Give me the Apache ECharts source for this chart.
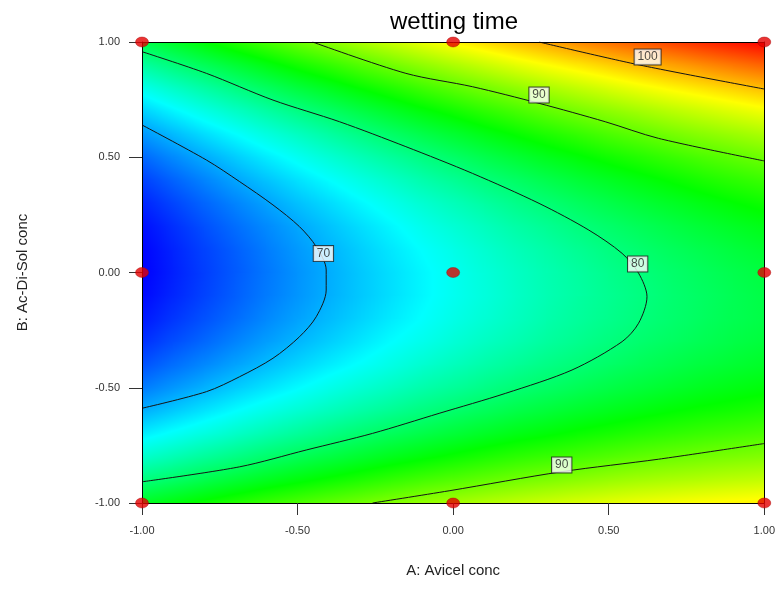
<!DOCTYPE html>
<html>
<head>
<meta charset="utf-8">
<title>wetting time</title>
<script src="https://cdn.jsdelivr.net/npm/echarts@6/dist/echarts.min.js"></script>
<style>
  html, body { margin: 0; padding: 0; background: #fff; }
  #main { width: 778px; height: 601px; }
</style>
</head>
<body>
<div id="main"></div>
<script>
// coded factor levels (grid of the response surface)
var aLevels = [-1, -0.9, -0.8, -0.7, -0.6, -0.5, -0.4, -0.3, -0.2, -0.1, 0, 0.1, 0.2, 0.3, 0.4, 0.5, 0.6, 0.7, 0.8, 0.9, 1];
var bLevels = [-1, -0.9, -0.8, -0.7, -0.6, -0.5, -0.4, -0.3, -0.2, -0.1, 0, 0.1, 0.2, 0.3, 0.4, 0.5, 0.6, 0.7, 0.8, 0.9, 1];

// wetting time, one row per B level (B = -1 first), one column per A level
var timeRows = [
    [83.7, 84.8, 85.9, 86.9, 87.9, 88.8, 89.7, 90.5, 91.3, 92.1, 92.8, 93.5, 94.1, 94.7, 95.3, 95.8, 96.3, 96.7, 97.1, 97.4, 97.7],
    [79.7, 80.8, 81.9, 83.0, 84.0, 84.9, 85.8, 86.7, 87.6, 88.4, 89.1, 89.8, 90.5, 91.1, 91.7, 92.3, 92.8, 93.2, 93.6, 94.0, 94.3],
    [76.1, 77.2, 78.4, 79.4, 80.5, 81.5, 82.4, 83.3, 84.2, 85.0, 85.8, 86.6, 87.3, 87.9, 88.5, 89.1, 89.7, 90.2, 90.6, 91.0, 91.4],
    [72.9, 74.1, 75.2, 76.3, 77.4, 78.4, 79.4, 80.4, 81.3, 82.1, 82.9, 83.7, 84.5, 85.1, 85.8, 86.4, 87.0, 87.5, 88.0, 88.4, 88.8],
    [70.1, 71.3, 72.5, 73.7, 74.8, 75.8, 76.8, 77.8, 78.7, 79.6, 80.5, 81.3, 82.1, 82.8, 83.5, 84.1, 84.7, 85.3, 85.8, 86.2, 86.7],
    [67.7, 69.0, 70.2, 71.4, 72.5, 73.6, 74.7, 75.7, 76.6, 77.6, 78.4, 79.3, 80.1, 80.8, 81.5, 82.2, 82.8, 83.4, 84.0, 84.5, 84.9],
    [65.8, 67.1, 68.3, 69.5, 70.7, 71.8, 72.9, 73.9, 74.9, 75.9, 76.8, 77.7, 78.5, 79.3, 80.0, 80.7, 81.4, 82.0, 82.6, 83.1, 83.6],
    [64.2, 65.6, 66.8, 68.1, 69.3, 70.4, 71.5, 72.6, 73.7, 74.6, 75.6, 76.5, 77.3, 78.2, 78.9, 79.7, 80.4, 81.0, 81.6, 82.2, 82.7],
    [63.1, 64.5, 65.8, 67.0, 68.3, 69.5, 70.6, 71.7, 72.8, 73.8, 74.8, 75.7, 76.6, 77.5, 78.3, 79.0, 79.8, 80.4, 81.1, 81.7, 82.2],
    [62.4, 63.8, 65.1, 66.4, 67.7, 68.9, 70.1, 71.2, 72.3, 73.4, 74.4, 75.3, 76.3, 77.2, 78.0, 78.8, 79.5, 80.3, 80.9, 81.6, 82.2],
    [62.1, 63.5, 64.9, 66.2, 67.5, 68.8, 70.0, 71.2, 72.3, 73.4, 74.4, 75.4, 76.4, 77.3, 78.1, 79.0, 79.8, 80.5, 81.2, 81.9, 82.5],
    [62.2, 63.7, 65.1, 66.4, 67.8, 69.1, 70.3, 71.5, 72.7, 73.8, 74.8, 75.9, 76.9, 77.8, 78.7, 79.6, 80.4, 81.2, 81.9, 82.6, 83.3],
    [62.7, 64.2, 65.7, 67.1, 68.4, 69.7, 71.0, 72.2, 73.4, 74.6, 75.7, 76.7, 77.8, 78.7, 79.7, 80.6, 81.4, 82.2, 83.0, 83.7, 84.4],
    [63.7, 65.2, 66.7, 68.1, 69.5, 70.9, 72.1, 73.4, 74.6, 75.8, 76.9, 78.0, 79.1, 80.1, 81.1, 82.0, 82.9, 83.7, 84.5, 85.3, 86.0],
    [65.0, 66.6, 68.1, 69.6, 71.0, 72.4, 73.7, 75.0, 76.2, 77.5, 78.6, 79.8, 80.8, 81.9, 82.9, 83.8, 84.7, 85.6, 86.5, 87.3, 88.0],
    [66.8, 68.4, 69.9, 71.4, 72.9, 74.3, 75.7, 77.0, 78.3, 79.5, 80.7, 81.9, 83.0, 84.1, 85.1, 86.1, 87.0, 87.9, 88.8, 89.6, 90.4],
    [69.0, 70.6, 72.2, 73.7, 75.2, 76.6, 78.0, 79.4, 80.7, 82.0, 83.2, 84.4, 85.6, 86.7, 87.7, 88.8, 89.7, 90.7, 91.6, 92.4, 93.2],
    [71.6, 73.3, 74.9, 76.4, 77.9, 79.4, 80.8, 82.2, 83.6, 84.9, 86.1, 87.4, 88.5, 89.7, 90.8, 91.8, 92.8, 93.8, 94.7, 95.6, 96.5],
    [74.6, 76.3, 77.9, 79.5, 81.1, 82.6, 84.0, 85.5, 86.8, 88.2, 89.5, 90.7, 91.9, 93.1, 94.2, 95.3, 96.4, 97.4, 98.3, 99.2, 100.1],
    [78.0, 79.8, 81.4, 83.0, 84.6, 86.2, 87.6, 89.1, 90.5, 91.9, 93.2, 94.5, 95.8, 97.0, 98.1, 99.2, 100.3, 101.3, 102.3, 103.3, 104.2],
    [81.9, 83.6, 85.3, 87.0, 88.6, 90.2, 91.7, 93.2, 94.6, 96.0, 97.4, 98.7, 100.0, 101.2, 102.4, 103.6, 104.7, 105.7, 106.8, 107.7, 108.7]
];

// contour lines, [A, B]
var contour70 = [[-1, 0.64], [-0.793, 0.488], [-0.686, 0.394], [-0.579, 0.293], [-0.494, 0.199], [-0.44, 0.112], [-0.408, 0.011],
    [-0.408, -0.076], [-0.44, -0.192], [-0.494, -0.279], [-0.579, -0.372], [-0.686, -0.452], [-0.793, -0.517], [-1, -0.589]];
var contour80 = [[-1, 0.958], [-0.793, 0.864], [-0.579, 0.748], [-0.365, 0.654], [-0.152, 0.546], [0.062, 0.43], [0.276, 0.3],
    [0.436, 0.184], [0.543, 0.083], [0.596, -0.003], [0.623, -0.105], [0.596, -0.22], [0.543, -0.3], [0.382, -0.423],
    [0.169, -0.524], [-0.045, -0.611], [-0.259, -0.698], [-0.472, -0.77], [-0.686, -0.843], [-1, -0.908]];
var contour90top = [[-0.452, 1], [-0.152, 0.864], [0.062, 0.806], [0.276, 0.734], [0.489, 0.654], [0.66, 0.582], [1, 0.484]];
var contour90bottom = [[-0.259, -1], [-0.013, -0.947], [0.35, -0.864], [0.66, -0.81], [1, -0.742]];
var contour100 = [[0.276, 1], [0.6, 0.9], [1, 0.796]];

// contour labels
var labelText = ['70', '80', '90', '100', '90'];
var labelA = [-0.417, 0.593, 0.276, 0.625, 0.349];
var labelB = [0.082, 0.037, 0.77, 0.935, -0.835];

// design points
var designA = [-1, -1, -1, 0, 0, 0, 1, 1, 1];
var designB = [-1, 0, 1, -1, 0, 1, -1, 0, 1];

// colour ramp of the plot: blue - cyan - green - yellow - red
var rampValues = [62.1, 73.75, 85.4, 97.05, 108.7];
var rampColors = [[0, 0, 255], [0, 255, 255], [0, 255, 0], [255, 255, 0], [255, 0, 0]];

var fontFamily = '"Liberation Sans", Arial, sans-serif';

// one cell between each pair of neighbouring grid nodes
var cells = [];
for (var i = 0; i < bLevels.length - 1; i++) {
    for (var j = 0; j < aLevels.length - 1; j++) {
        cells.push([aLevels[j], bLevels[i], aLevels[j + 1], bLevels[i + 1],
            timeRows[i][j], timeRows[i][j + 1], timeRows[i + 1][j], timeRows[i + 1][j + 1]]);
    }
}

var labelData = [];
for (var k = 0; k < labelText.length; k++) {
    labelData.push([labelA[k], labelB[k], labelText[k]]);
}
var designData = [];
for (var m = 0; m < designA.length; m++) {
    designData.push([designA[m], designB[m]]);
}

function colorOf(v) {
    var n = rampValues.length;
    if (v <= rampValues[0]) return 'rgb(' + rampColors[0].join(',') + ')';
    if (v >= rampValues[n - 1]) return 'rgb(' + rampColors[n - 1].join(',') + ')';
    for (var s = 0; s < n - 1; s++) {
        if (v <= rampValues[s + 1]) {
            var t = (v - rampValues[s]) / (rampValues[s + 1] - rampValues[s]);
            var c0 = rampColors[s], c1 = rampColors[s + 1];
            return 'rgb(' + Math.round(c0[0] + (c1[0] - c0[0]) * t) + ',' +
                Math.round(c0[1] + (c1[1] - c0[1]) * t) + ',' +
                Math.round(c0[2] + (c1[2] - c0[2]) * t) + ')';
        }
    }
}

// each cell is shaded with a linear gradient running along the slope of its four corner values
function renderCell(params, api) {
    var a0 = api.value(0), b0 = api.value(1), a1 = api.value(2), b1 = api.value(3);
    var v00 = api.value(4), v10 = api.value(5), v01 = api.value(6), v11 = api.value(7);
    var pTL = api.coord([a0, b1]);
    var pBR = api.coord([a1, b0]);
    var x = pTL[0], y = pTL[1], w = pBR[0] - pTL[0], h = pBR[1] - pTL[1];
    var vc = (v00 + v10 + v01 + v11) / 4;
    var dA = (v10 - v00 + v11 - v01) / 2;
    var dB = (v01 - v00 + v11 - v10) / 2;
    var gx = dA / w, gy = -dB / h;
    var g2 = gx * gx + gy * gy;
    var cx = x + w / 2, cy = y + h / 2;
    var fill;
    if (g2 < 1e-12) {
        fill = colorOf(vc);
    } else {
        var half = (Math.abs(dA) + Math.abs(dB)) / 2;
        var lo = vc - half, hi = vc + half;
        var t = half / g2;
        var stops = [{ offset: 0, color: colorOf(lo) }];
        for (var s = 0; s < rampValues.length; s++) {
            if (rampValues[s] > lo && rampValues[s] < hi) {
                stops.push({ offset: (rampValues[s] - lo) / (hi - lo), color: colorOf(rampValues[s]) });
            }
        }
        stops.push({ offset: 1, color: colorOf(hi) });
        fill = new echarts.graphic.LinearGradient(cx - gx * t, cy - gy * t, cx + gx * t, cy + gy * t, stops, true);
    }
    var rect = echarts.graphic.clipRectByRect({
        x: x - 0.5, y: y - 0.5, width: w + 1, height: h + 1
    }, {
        x: params.coordSys.x, y: params.coordSys.y,
        width: params.coordSys.width, height: params.coordSys.height
    });
    return rect && {
        type: 'rect',
        shape: rect,
        style: { fill: fill }
    };
}

function contourSeries(data) {
    return {
        type: 'line',
        data: data,
        smooth: 0.3,
        symbol: 'none',
        silent: true,
        z: 3,
        lineStyle: { color: '#151515', width: 1 }
    };
}

var myChart = echarts.init(document.getElementById('main'));

var option = {
    backgroundColor: '#fff',
    animation: false,
    textStyle: { fontFamily: fontFamily },
    graphic: [{
        type: 'text',
        x: 454,
        y: 10,
        style: {
            text: 'wetting time',
            align: 'center',
            fill: '#000',
            font: '24px ' + fontFamily
        }
    }],
    grid: { left: 142, right: 12, top: 42, bottom: 98 },
    xAxis: [{
        type: 'value', min: -1, max: 1, interval: 0.5, z: 5,
        name: 'A: Avicel conc', nameLocation: 'middle', nameGap: 60,
        nameTextStyle: { fontSize: 15, color: '#222' },
        axisLine: { onZero: false, lineStyle: { color: '#000', width: 1 } },
        axisTick: { show: true, inside: false, length: 12, lineStyle: { color: '#333' } },
        axisLabel: { fontSize: 11, color: '#333', margin: 22, formatter: function (v) { return v.toFixed(2); } },
        splitLine: { show: false }
    }, {
        type: 'value', min: -1, max: 1, position: 'top', z: 5,
        axisLine: { onZero: false, lineStyle: { color: '#000', width: 1 } },
        axisTick: { show: false }, axisLabel: { show: false }, splitLine: { show: false }
    }],
    yAxis: [{
        type: 'value', min: -1, max: 1, interval: 0.5, z: 5,
        name: 'B: Ac-Di-Sol conc', nameLocation: 'middle', nameGap: 112,
        nameTextStyle: { fontSize: 15, color: '#222' },
        axisLine: { onZero: false, lineStyle: { color: '#000', width: 1 } },
        axisTick: { show: true, inside: false, length: 13, lineStyle: { color: '#333' } },
        axisLabel: { fontSize: 11, color: '#333', margin: 22, formatter: function (v) { return v.toFixed(2); } },
        splitLine: { show: false }
    }, {
        type: 'value', min: -1, max: 1, position: 'right', z: 5,
        axisLine: { onZero: false, lineStyle: { color: '#000', width: 1 } },
        axisTick: { show: false }, axisLabel: { show: false }, splitLine: { show: false }
    }],
    series: [
        {
            type: 'custom',
            renderItem: renderCell,
            data: cells,
            silent: true,
            z: 1
        },
        contourSeries(contour70),
        contourSeries(contour80),
        contourSeries(contour90top),
        contourSeries(contour90bottom),
        contourSeries(contour100),
        {
            type: 'scatter',
            data: labelData,
            symbolSize: 1,
            silent: true,
            z: 4,
            itemStyle: { color: 'transparent' },
            label: {
                show: true,
                position: 'inside',
                formatter: function (p) { return p.value[2]; },
                fontSize: 12,
                color: '#222',
                backgroundColor: '#fff',
                borderColor: '#222',
                borderWidth: 1,
                padding: [2, 3, 1, 3]
            }
        },
        {
            type: 'scatter',
            data: designData,
            clip: false,
            symbol: 'circle',
            symbolSize: [13, 10],
            silent: true,
            z: 10,
            itemStyle: { color: '#e50000', borderColor: '#a00000', borderWidth: 0.5 }
        }
    ]
};

myChart.setOption(option, true);
</script>
</body>
</html>
